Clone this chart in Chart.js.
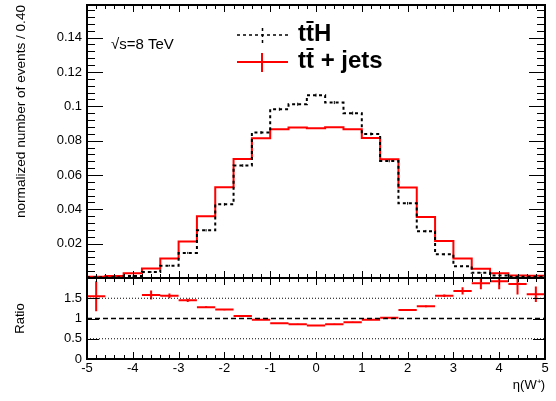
<!DOCTYPE html>
<html>
<head>
<meta charset="utf-8">
<script src="https://cdn.jsdelivr.net/npm/chart.js@4/dist/chart.umd.min.js"></script>
<style>
  html, body { margin: 0; padding: 0; background: #ffffff; }
  #wrap { position: relative; width: 556px; height: 401px; }
  #wrap canvas { position: absolute; left: 0; top: 0; }
</style>
</head>
<body>
<div id="wrap">
  <canvas id="mainPad" width="556" height="401"></canvas>
  <canvas id="ratioPad" width="556" height="401"></canvas>
</div>
<script>
// eta(W+) binning: 25 bins of width 0.4 between -5 and 5
const binCenters = [-4.8, -4.4, -4.0, -3.6, -3.2, -2.8, -2.4, -2.0, -1.6, -1.2, -0.8, -0.4, 0.0,
                    0.4, 0.8, 1.2, 1.6, 2.0, 2.4, 2.8, 3.2, 3.6, 4.0, 4.4, 4.8];
const binWidth = 0.4;

// normalized distributions
const ttH = [0.0005, 0.0005, 0.0011, 0.0035, 0.0072, 0.0146, 0.0278, 0.0429, 0.0655, 0.0847, 0.0983, 0.1012, 0.1065,
             0.1022, 0.0960, 0.0839, 0.0682, 0.0435, 0.0273, 0.0138, 0.0069, 0.0030, 0.0014, 0.0008, 0.0008];
const ttHErr = [0.0002, 0.0002, 0.0003, 0.0004, 0.0005, 0.0006, 0.0007, 0.0008, 0.0008, 0.0009, 0.0009, 0.0009, 0.0009,
                0.0009, 0.0009, 0.0009, 0.0008, 0.0008, 0.0007, 0.0006, 0.0005, 0.0004, 0.0003, 0.0002, 0.0002];
const ttJets = [0.0008, 0.0011, 0.0027, 0.0056, 0.0113, 0.0213, 0.0359, 0.0528, 0.0693, 0.0814, 0.0866, 0.0876, 0.0872,
                0.0878, 0.0866, 0.0816, 0.0692, 0.0527, 0.0355, 0.0215, 0.0114, 0.0054, 0.0027, 0.0014, 0.0013];

// ratio tt+jets / ttH with uncertainties (empty bins have no entry)
const ratio = [1.55, null, null, 1.58, 1.56, 1.45, 1.28, 1.22, 1.06, 0.97, 0.88, 0.86, 0.825,
               0.86, 0.91, 0.97, 1.02, 1.21, 1.30, 1.56, 1.68, 1.87, 1.92, 1.85, 1.60];
const ratioErr = [0.37, null, null, 0.11, 0.06, 0.04, 0.02, 0.015, 0.01, 0.01, 0.01, 0.01, 0.01,
                  0.01, 0.01, 0.01, 0.01, 0.015, 0.02, 0.03, 0.09, 0.15, 0.20, 0.26, 0.19];

// axis tick labels
const xTicks = [-5, -4, -3, -2, -1, 0, 1, 2, 3, 4, 5];
const mainYTicks = [0.02, 0.04, 0.06, 0.08, 0.1, 0.12, 0.14];
const ratioYTicks = [0, 0.5, 1, 1.5];
const ratioRefLines = [0.5, 1, 1.5];

const FONT = 'Liberation Sans, Arial, Helvetica, sans-serif';

// ---- helpers building line-dataset points from the arrays ----
function histSteps(vals) {
  const pts = binCenters.map((c, i) => ({ x: c - binWidth / 2, y: vals[i] }));
  pts.push({ x: binCenters[binCenters.length - 1] + binWidth / 2, y: vals[vals.length - 1] });
  return pts;
}
function vertErrors(vals, errs) {
  const pts = [];
  binCenters.forEach((c, i) => {
    if (vals[i] == null) return;
    pts.push({ x: c, y: vals[i] - errs[i] }, { x: c, y: vals[i] + errs[i] }, { x: c, y: null });
  });
  return pts;
}
function horizBars(vals) {
  const pts = [];
  binCenters.forEach((c, i) => {
    if (vals[i] == null) return;
    pts.push({ x: c - binWidth / 2, y: vals[i] }, { x: c + binWidth / 2, y: vals[i] }, { x: c, y: null });
  });
  return pts;
}

// ---- frame and inward tick marks ----
function drawFrameAndTicks(chart, cfg) {
  const { ctx, chartArea: a } = chart;
  const xs = chart.scales.x, ys = chart.scales.y;
  ctx.save();
  ctx.strokeStyle = '#000';
  ctx.lineWidth = 1;
  ctx.beginPath();
  // x ticks: majors every 1, minors every 0.2
  for (let k = 0; k <= 50; k++) {
    const v = -5 + k * 0.2;
    const px = Math.round(xs.getPixelForValue(v)) + 0.5;
    const major = k % 5 === 0;
    const lb = major ? cfg.xMajBottom : cfg.xMinBottom;
    const lt = major ? cfg.xMajTop : cfg.xMinTop;
    if (lb) { ctx.moveTo(px, a.bottom); ctx.lineTo(px, a.bottom - lb); }
    if (lt) { ctx.moveTo(px, a.top); ctx.lineTo(px, a.top + lt); }
  }
  // y ticks on both sides
  const n = Math.floor(ys.max / cfg.yMinorStep + 1e-6);
  for (let k = 0; k <= n; k++) {
    const v = k * cfg.yMinorStep;
    const py = Math.round(ys.getPixelForValue(v)) + 0.5;
    const major = k % cfg.yMinorPerMajor === 0;
    const len = major ? cfg.yMaj : cfg.yMin;
    if (!len) continue;
    ctx.moveTo(a.left, py); ctx.lineTo(a.left + len, py);
    ctx.moveTo(a.right, py); ctx.lineTo(a.right - len, py);
  }
  ctx.stroke();
  ctx.lineWidth = 2;
  ctx.strokeRect(a.left, a.top, a.right - a.left, a.bottom - a.top);
  ctx.restore();
}

const axisFont = { family: FONT, size: 13 };

// ================= main pad =================
const mainPad = new Chart(document.getElementById('mainPad'), {
  type: 'line',
  data: {
    datasets: [
      { label: 'ttH', data: histSteps(ttH), stepped: 'before', borderColor: '#000', borderWidth: 2,
        borderDash: [3, 3], pointRadius: 0, fill: false },
      { label: 'ttH errors', data: vertErrors(ttH, ttHErr), borderColor: '#000', borderWidth: 1,
        pointRadius: 0, fill: false, spanGaps: false },
      { label: 'tt + jets', data: histSteps(ttJets), stepped: 'before', borderColor: '#ff0000', borderWidth: 2,
        pointRadius: 0, fill: false }
    ]
  },
  options: {
    responsive: false,
    animation: false,
    events: [],
    layout: { padding: { left: 0, top: 5, right: 11, bottom: 123 } },
    plugins: { legend: { display: false }, tooltip: { enabled: false } },
    scales: {
      x: { type: 'linear', min: -5, max: 5, display: false },
      y: {
        type: 'linear', min: 0, max: 0.159,
        afterBuildTicks: s => { s.ticks = mainYTicks.map(v => ({ value: v })); },
        afterFit: s => { s.width = 87; s.paddingTop = 0; s.paddingBottom = 0; },
        grid: { display: false, drawTicks: false },
        border: { display: false },
        ticks: { padding: 5, color: '#000', font: axisFont, callback: v => String(v) },
        title: { display: true, text: 'normalized number of events / 0.40', align: 'end', color: '#000',
                 font: { family: FONT, size: 13.6 }, padding: { top: 13, bottom: 0 } }
      }
    }
  },
  plugins: [{
    id: 'mainDecor',
    afterDatasetsDraw(chart) {
      drawFrameAndTicks(chart, { xMajBottom: 7, xMinBottom: 4, xMajTop: 7, xMinTop: 4,
                                 yMinorStep: 0.004, yMinorPerMajor: 5, yMaj: 16, yMin: 8 });
      const ctx = chart.ctx;
      ctx.save();
      // legend samples
      ctx.strokeStyle = '#000';
      ctx.lineWidth = 1.5;
      ctx.setLineDash([3, 3]);
      ctx.beginPath();
      ctx.moveTo(237, 35); ctx.lineTo(288, 35);
      ctx.moveTo(262.5, 28); ctx.lineTo(262.5, 43);
      ctx.stroke();
      ctx.setLineDash([]);
      ctx.strokeStyle = '#ff0000';
      ctx.lineWidth = 2;
      ctx.beginPath();
      ctx.moveTo(237, 62); ctx.lineTo(288, 62);
      ctx.moveTo(262, 53); ctx.lineTo(262, 72);
      ctx.stroke();
      // legend text
      ctx.fillStyle = '#000';
      ctx.textBaseline = 'alphabetic';
      ctx.textAlign = 'left';
      ctx.font = 'bold 24px ' + FONT;
      ctx.fillText('tt\u0304H', 298, 41);
      ctx.fillText('tt\u0304 + jets', 298, 68);
      ctx.font = '15px ' + FONT;
      ctx.fillText('\u221As=8 TeV', 111, 49);
      ctx.restore();
    }
  }]
});

// ================= ratio pad =================
const ratioPad = new Chart(document.getElementById('ratioPad'), {
  type: 'line',
  data: {
    datasets: [
      ...ratioRefLines.map(r => ({
        label: 'ref ' + r,
        data: [{ x: -5, y: r }, { x: 5, y: r }],
        borderColor: '#000', borderWidth: r === 1 ? 1.5 : 1,
        borderDash: r === 1 ? [5, 3] : [1, 2], pointRadius: 0, fill: false
      })),
      { label: 'ratio', data: horizBars(ratio), borderColor: '#ff0000', borderWidth: 2,
        pointRadius: 0, fill: false, spanGaps: false },
      { label: 'ratio errors', data: vertErrors(ratio, ratioErr), borderColor: '#ff0000', borderWidth: 2,
        pointRadius: 0, fill: false, spanGaps: false }
    ]
  },
  options: {
    responsive: false,
    animation: false,
    events: [],
    layout: { padding: { left: 0, top: 278, right: 11, bottom: 0 } },
    plugins: { legend: { display: false }, tooltip: { enabled: false } },
    scales: {
      x: {
        type: 'linear', min: -5, max: 5,
        afterBuildTicks: s => { s.ticks = xTicks.map(v => ({ value: v })); },
        afterFit: s => { s.height = 42; s.paddingLeft = 0; s.paddingRight = 0; },
        grid: { display: false, drawTicks: false },
        border: { display: false },
        ticks: { padding: 2, color: '#000', font: axisFont, maxRotation: 0, autoSkip: false, callback: v => String(v) },
        title: { display: true, text: '\u03B7(W\u207A)', align: 'end', color: '#000',
                 font: { family: FONT, size: 13 }, padding: { top: 0, bottom: 8 } }
      },
      y: {
        type: 'linear', min: 0, max: 2.0,
        afterBuildTicks: s => { s.ticks = ratioYTicks.map(v => ({ value: v })); },
        afterFit: s => { s.width = 87; s.paddingTop = 0; s.paddingBottom = 0; },
        grid: { display: false, drawTicks: false },
        border: { display: false },
        ticks: { padding: 5, color: '#000', font: axisFont, callback: v => String(v) },
        title: { display: true, text: 'Ratio', align: 'center', color: '#000',
                 font: { family: FONT, size: 13 }, padding: { top: 13, bottom: 0 } }
      }
    }
  },
  plugins: [{
    id: 'ratioDecor',
    afterDatasetsDraw(chart) {
      drawFrameAndTicks(chart, { xMajBottom: 7, xMinBottom: 4, xMajTop: 7, xMinTop: 4,
                                 yMinorStep: 0.5, yMinorPerMajor: 1, yMaj: 12, yMin: 0 });
    }
  }]
});
</script>
</body>
</html>
